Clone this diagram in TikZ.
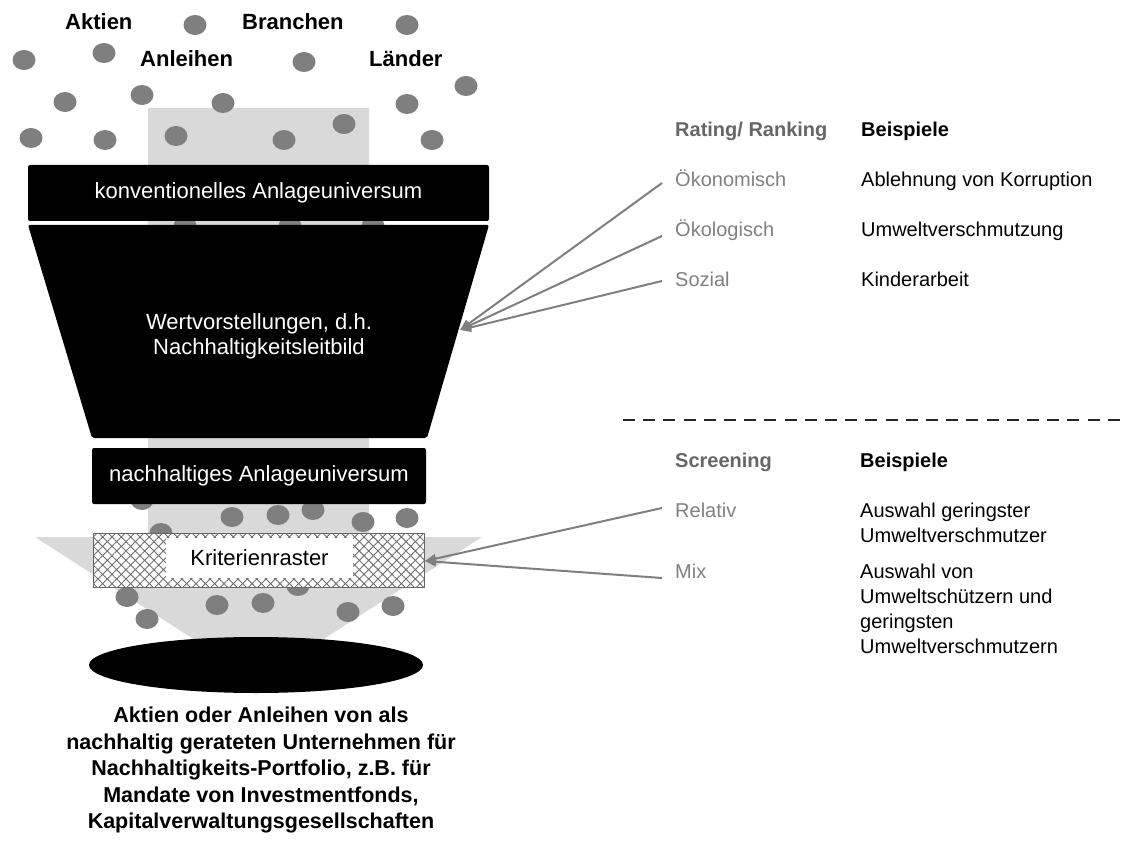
\documentclass[tikz,border=0pt]{standalone}
\usepackage{fontspec}
\setmainfont{Liberation Sans}
\usetikzlibrary{patterns.meta,arrows.meta,shapes.geometric}
\definecolor{dotgray}{HTML}{7F7F7F}
\definecolor{flowgray}{HTML}{D9D9D9}
\definecolor{labelgray}{HTML}{808080}
\definecolor{headgray}{HTML}{666666}
\definecolor{linegray}{HTML}{7F7F7F}
\definecolor{hatchgray}{HTML}{707070}
\begin{document}
\begin{tikzpicture}[x=1pt,y=-1pt,
  dot/.style={fill=dotgray},
  blackbox/.style={fill=black, text=white, rounded corners=2pt, inner sep=0pt,
    font=\fontsize{22}{27}\selectfont},
  toplabel/.style={anchor=base west, inner sep=0pt, font=\bfseries\fontsize{22}{27}\selectfont},
  colhead/.style={anchor=base west, inner sep=0pt, font=\bfseries\fontsize{20}{25}\selectfont},
  kind/.style={anchor=base west, inner sep=0pt, text=labelgray, font=\fontsize{20}{25}\selectfont},
  example/.style={anchor=base west, inner sep=0pt, font=\fontsize{20}{25}\selectfont},
  conn/.style={draw=linegray, line width=2pt, -{Triangle[length=11pt,width=9pt]}},
]
\useasboundingbox (0,0) rectangle (1125,845);

% broad grey flow arrow behind the funnel
\fill[flowgray] (148,108) -- (369,108) -- (369,537) -- (482,537) -- (258.5,681)
  -- (35,537) -- (148,537) -- cycle;

% securities as grey dots
\foreach \p in {(195,25),(407,25),(24,60),(104,53),(304,62),(65,102),(142,95),
  (223,103),(407,104),(466,86),(31,138),(105,140),(176,136),(284,140),(344,124),
  (432,140),(185,226),(290,226),(373,226),(142,500),(232,517),(278,515),(313,510),
  (363,522),(407,518),(161,533),(127,597),(147,619),(217,605),(263,603),(298,586),
  (348,612),(393,606)}
  \fill[dot] \p ellipse [x radius=11.5, y radius=10];

% headings above the funnel
\node[toplabel] (aktien) at (65,30) {Aktien};
\node[toplabel] (branchen) at (242,30) {Branchen};
\node[toplabel] (anleihen) at (140,67) {Anleihen};
\node[toplabel] (laender) at (369,67) {Länder};

% funnel
\node[blackbox, minimum width=461pt, minimum height=56pt] (konv) at (258.5,193)
  {konventionelles Anlageuniversum};
\fill[black, rounded corners=2pt] (28,225) -- (489,225) -- (427,438) -- (92,438) -- cycle;
\node[text=white, align=center, inner sep=0pt, font=\fontsize{22}{25}\selectfont]
  (wert) at (259,336) {Wertvorstellungen, d.h.\\Nachhaltigkeitsleitbild};
\node[blackbox, minimum width=334pt, minimum height=56pt] (nach) at (259,476)
  {nachhaltiges Anlageuniversum};

% screening grid
\node[draw=headgray, line width=1pt, minimum width=331pt, minimum height=54pt,
  inner sep=0pt, preaction={fill=white},
  pattern={Hatch[angle=45,distance=6.6pt,line width=0.9pt]}, pattern color=hatchgray]
  (raster) at (258.5,560) {};
\node[fill=white, minimum width=187pt, minimum height=40pt, inner sep=0pt,
  font=\fontsize{22}{27}\selectfont] (rlabel) at (259.5,558) {Kriterienraster};

% resulting portfolio
\node[ellipse, fill=black, minimum width=334pt, minimum height=56pt, inner sep=0pt]
  (pool) at (256,665) {};
\node[anchor=north, align=center, inner sep=0pt,
  font=\bfseries\fontsize{21.5}{26.5}\selectfont] (result) at (261,707)
  {Aktien oder Anleihen von als\\
   nachhaltig gerateten Unternehmen für\\
   Nachhaltigkeits-Portfolio, z.B. für\\
   Mandate von Investmentfonds,\\
   Kapitalverwaltungsgesellschaften};

% rating / ranking table
\node[colhead, text=headgray] (rh) at (675,137) {Rating/ Ranking};
\node[colhead] (rb) at (861,137) {Beispiele};
\node[kind] (oek) at (675,187) {Ökonomisch};
\node[example] (oekx) at (861,187) {Ablehnung von Korruption};
\node[kind] (oko) at (675,237) {Ökologisch};
\node[example] (okox) at (861,237) {Umweltverschmutzung};
\node[kind] (soz) at (675,287) {Sozial};
\node[example] (sozx) at (861,287) {Kinderarbeit};

% separator
\coordinate (sepL) at (623,420);
\coordinate (sepR) at (1122,420);
\draw[black!85, line width=2pt, dash pattern=on 12pt off 8.2pt] (sepL) -- (sepR);

% screening table
\node[colhead, text=headgray] (sh) at (675,467) {Screening};
\node[colhead] (sb) at (860,467) {Beispiele};
\node[kind] (rel) at (675,517) {Relativ};
\node[example] (relx) at (860,517) {Auswahl geringster};
\node[example] (relx2) at (860,542) {Umweltverschmutzer};
\node[kind] (mix) at (675,578) {Mix};
\node[example] (mixx) at (860,578) {Auswahl von};
\node[example] (mixx2) at (860,603) {Umweltschützern und};
\node[example] (mixx3) at (860,628) {geringsten};
\node[example] (mixx4) at (860,653) {Umweltverschmutzern};

% connectors
\coordinate (valTip) at (460,330);
\coordinate (rasTip) at (425,561);
\draw[conn] ([xshift=-13pt,yshift=4pt]oek.base west) -- (valTip);
\draw[conn] ([xshift=-13pt,yshift=1pt]oko.base west) -- (valTip);
\draw[conn] ([xshift=-13pt,yshift=6pt]soz.base west) -- (valTip);
\draw[conn] ([xshift=-13pt,yshift=9pt]rel.base west) -- (rasTip);
\draw[conn] ([xshift=-13pt,yshift=0pt]mix.base west) -- (rasTip);
\end{tikzpicture}
\end{document}
